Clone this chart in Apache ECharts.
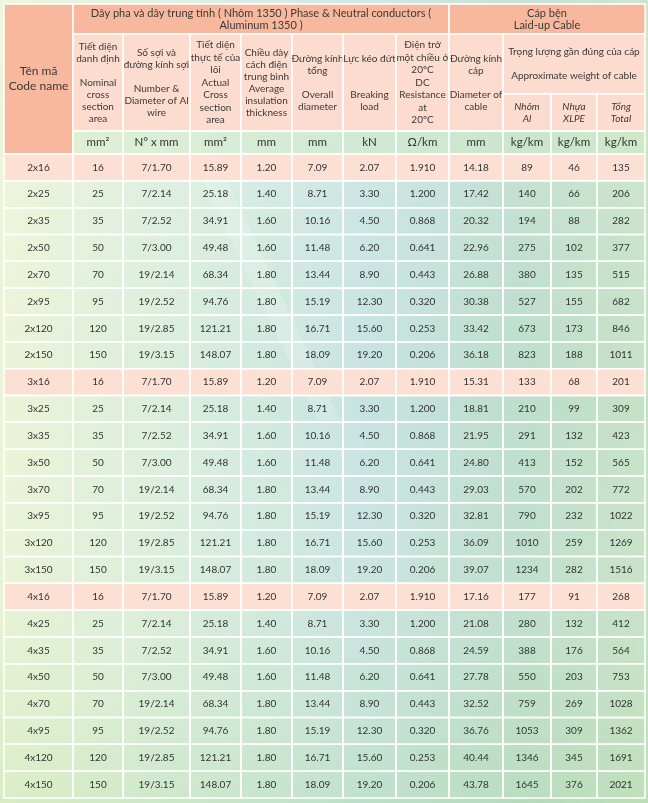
<!DOCTYPE html>
<html>
<head>
<meta charset="utf-8">
<script src="https://cdn.jsdelivr.net/npm/echarts@6/dist/echarts.min.js"></script>
<style>
  html, body { margin: 0; padding: 0; }
  #main { width: 648px; height: 803px; }
</style>
</head>
<body>
<div id="main"></div>
<script>
var cores = [2, 3, 4];
var nominalArea = [16, 25, 35, 50, 70, 95, 120, 150];
var strands = ['7/1.70', '7/2.14', '7/2.52', '7/3.00', '19/2.14', '19/2.52', '19/2.85', '19/3.15'];
var actualArea = [15.89, 25.18, 34.91, 49.48, 68.34, 94.76, 121.21, 148.07];
var insulation = [1.20, 1.40, 1.60, 1.60, 1.80, 1.80, 1.80, 1.80];
var overallDiameter = [7.09, 8.71, 10.16, 11.48, 13.44, 15.19, 16.71, 18.09];
var breakingLoad = [2.07, 3.30, 4.50, 6.20, 8.90, 12.30, 15.60, 19.20];
var dcResistance = [1.910, 1.200, 0.868, 0.641, 0.443, 0.320, 0.253, 0.206];
var cableDiameter = [
    [14.18, 17.42, 20.32, 22.96, 26.88, 30.38, 33.42, 36.18],
    [15.31, 18.81, 21.95, 24.80, 29.03, 32.81, 36.09, 39.07],
    [17.16, 21.08, 24.59, 27.78, 32.52, 36.76, 40.44, 43.78]
];
var weightAl = [
    [89, 140, 194, 275, 380, 527, 673, 823],
    [133, 210, 291, 413, 570, 790, 1010, 1234],
    [177, 280, 388, 550, 759, 1053, 1346, 1645]
];
var weightXlpe = [
    [46, 66, 88, 102, 135, 155, 173, 188],
    [68, 99, 132, 152, 202, 232, 259, 282],
    [91, 132, 176, 203, 269, 309, 345, 376]
];
var weightTotal = [
    [135, 206, 282, 377, 515, 682, 846, 1011],
    [201, 309, 423, 565, 772, 1022, 1269, 1516],
    [268, 412, 564, 753, 1028, 1362, 1691, 2021]
];
var units = ['mm²', 'N° x mm', 'mm²', 'mm', 'mm', 'kN', 'Ω/km', 'mm', 'kg/km', 'kg/km', 'kg/km'];

// header texts
var codeHead = 'Tên mã\nCode name';
var groupHeads = [
    'Dây pha và dây trung tính ( Nhôm 1350 ) Phase & Neutral conductors (\nAluminum 1350 )',
    'Cáp bện\nLaid-up Cable'
];
var colHeads = [
    'Tiết diện\ndanh định\n\nNominal\ncross\nsection\narea',
    'Số sợi và\nđường kính sợi\n\nNumber &\nDiameter of Al\nwire',
    'Tiết diện\nthực tế của\nlõi\nActual\nCross\nsection\narea',
    'Chiều dày\ncách điện\ntrung bình\nAverage\ninsulation\nthickness',
    'Đường kính\ntổng\n\nOverall\ndiameter',
    'Lực kéo đứt\n\n\nBreaking\nload',
    'Điện trở\nmột chiều ở\n20ºC\nDC\nResistance\nat\n20ºC',
    'Đường kính\ncáp\n\nDiameter of\ncable'
];
var weightHead = 'Trọng lượng gần đúng của cáp\n\nApproximate weight of cable';
var weightSubHeads = ['Nhôm\nAl', 'Nhựa\nXLPE', 'Tổng\nTotal'];

// ---- layout (axis units) ----
var colEdges = [0, 69, 119, 186, 237, 288, 339, 392, 445, 499, 547, 593, 641];
var headEdges = [0, 30, 90, 127, 150];
var tableBottom = 794;
var rowCount = cores.length * nominalArea.length;
var rowH = (tableBottom - headEdges[4]) / rowCount;

var colors = {
    head: '#f8b89e',
    sub: '#fcdcce',
    unit: 'rgba(214,238,198,0.45)',
    hi: '#fde0d4',
    row: 'rgba(255,255,255,0.06)'
};

// ---- build cells ----
var cells = [];
function addCell(c0, c1, y0, y1, text, kind, font) {
    cells.push({ box: [colEdges[c0], colEdges[c1], y0, y1], text: text, kind: kind, font: font || {} });
}

addCell(0, 1, headEdges[0], headEdges[4], codeHead, 'head', { size: 12, lh: 15 });
addCell(1, 8, headEdges[0], headEdges[1], groupHeads[0], 'head', { size: 11, lh: 12 });
addCell(8, 12, headEdges[0], headEdges[1], groupHeads[1], 'head', { size: 11, lh: 12 });
colHeads.forEach(function (t, i) {
    var lh = (i === 2 || i === 6) ? 12.5 : 12;
    addCell(i + 1, i + 2, headEdges[1], headEdges[3], t, 'sub', { size: 10, lh: lh });
});
addCell(9, 12, headEdges[1], headEdges[2], weightHead, 'sub', { size: 10, lh: 12 });
weightSubHeads.forEach(function (t, i) {
    addCell(9 + i, 10 + i, headEdges[2], headEdges[3], t, 'sub', { size: 10, lh: 12, italic: true });
});
units.forEach(function (u, i) {
    addCell(i + 1, i + 2, headEdges[3], headEdges[4], u, 'unit', { size: 11.5 });
});

cores.forEach(function (n, g) {
    nominalArea.forEach(function (a, k) {
        var r = g * nominalArea.length + k;
        var y0 = headEdges[4] + r * rowH, y1 = y0 + rowH;
        var kind = k === 0 ? 'hi' : 'row';
        var vals = [
            n + 'x' + a,
            String(a),
            strands[k],
            actualArea[k].toFixed(2),
            insulation[k].toFixed(2),
            overallDiameter[k].toFixed(2),
            breakingLoad[k].toFixed(2),
            dcResistance[k].toFixed(3),
            cableDiameter[g][k].toFixed(2),
            String(weightAl[g][k]),
            String(weightXlpe[g][k]),
            String(weightTotal[g][k])
        ];
        vals.forEach(function (v, c) {
            addCell(c, c + 1, y0, y1, v, kind, { size: 10 });
        });
    });
});

var chart = echarts.init(document.getElementById('main'));

var option = {
    backgroundColor: new echarts.graphic.LinearGradient(0, 0, 1, 0, [
        { offset: 0, color: '#ebf4d4' },
        { offset: 0.3, color: '#d6ecdc' },
        { offset: 0.55, color: '#c5e3e0' },
        { offset: 0.8, color: '#badccb' },
        { offset: 1, color: '#c3e1c2' }
    ]),
    graphic: [{
        type: 'rect',
        z: -1,
        shape: { x: 0, y: 0, width: 648, height: 803 },
        style: {
            fill: new echarts.graphic.LinearGradient(0, 0, 0, 1, [
                { offset: 0, color: 'rgba(255,255,255,0.18)' },
                { offset: 0.5, color: 'rgba(255,255,255,0)' },
                { offset: 1, color: 'rgba(170,215,150,0.28)' }
            ])
        }
    }, {
        type: 'polygon',
        z: -1,
        shape: { points: [[190, 155], [215, 155], [340, 420], [318, 420]] },
        style: { fill: 'rgba(255,255,255,0.18)' }
    }],
    grid: { left: 4, top: 4, width: 641, height: 794 },
    xAxis: { type: 'value', min: 0, max: 641, show: false },
    yAxis: { type: 'value', min: 0, max: tableBottom, inverse: true, show: false },
    series: [{
        type: 'custom',
        silent: true,
        data: cells.map(function (c) { return c.box; }),
        renderItem: function (params, api) {
            var cell = cells[params.dataIndex];
            var p0 = api.coord([api.value(0), api.value(2)]);
            var p1 = api.coord([api.value(1), api.value(3)]);
            var f = cell.font;
            var isHead = cell.kind === 'head' || cell.kind === 'sub';
            return {
                type: 'group',
                children: [{
                    type: 'rect',
                    shape: { x: p0[0], y: p0[1], width: p1[0] - p0[0], height: p1[1] - p0[1] },
                    style: { fill: colors[cell.kind], stroke: '#ffffff', lineWidth: 1.5 }
                }, {
                    type: 'text',
                    style: {
                        text: cell.text,
                        x: (p0[0] + p1[0]) / 2,
                        y: (p0[1] + p1[1]) / 2,
                        align: 'center',
                        verticalAlign: 'middle',
                        fontFamily: 'Lato',
                        fontSize: f.size,
                        fontStyle: f.italic ? 'italic' : 'normal',
                        lineHeight: f.lh || f.size + 2,
                        fill: isHead ? '#3a3a3a' : '#333333'
                    }
                }]
            };
        }
    }]
};

chart.setOption(option);
</script>
</body>
</html>
